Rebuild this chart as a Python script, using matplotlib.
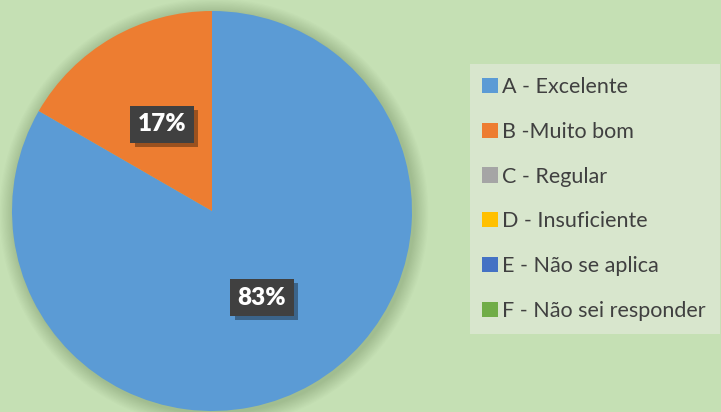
import matplotlib.pyplot as plt
from matplotlib.patches import Patch, Rectangle, Circle
from matplotlib import patheffects as pe

# data
categories = ['A - Excelente', 'B -Muito bom', 'C - Regular', 'D - Insuficiente',
              'E - Não se aplica', 'F - Não sei responder']
counts = [5, 1, 0, 0, 0, 0]
colors = ['#5b9bd5', '#ed7d31', '#a5a5a5', '#ffc000', '#4472c4', '#70ad47']

W, H = 721, 412
fig = plt.figure(figsize=(W / 100, H / 100), dpi=100)
fig.patch.set_facecolor('#c5e0b4')
plt.rcParams['font.family'] = ['Lato', 'DejaVu Sans']

# pie axes: centre (212, 211) px, radius 200 px
ax = fig.add_axes([12 / W, 1 / H, 400 / W, 400 / H])


def pct(p):
    return f'{p:.0f}%' if p > 0 else ''


wedges, texts, autotexts = ax.pie(counts, colors=colors, startangle=90, counterclock=False,
                                  autopct=pct, pctdistance=0.5, radius=1,
                                  wedgeprops=dict(linewidth=0))
ax.set_xlim(-1, 1)
ax.set_ylim(-1, 1)
ax.set_aspect('equal')
ax.axis('off')

# soft shadow around the pie
for i in range(12):
    ax.add_patch(Circle((0.01, -0.01), 1 + 0.006 * (12 - i), color='#4a6a3a',
                        alpha=0.025, lw=0, clip_on=False, zorder=0))

for w in wedges:
    w.set_clip_on(False)
    w.set_zorder(1)

for t in autotexts:
    t.set_color('white')
    t.set_fontsize(17.5)
    t.set_fontweight('heavy')
    t.set_zorder(3)
    t.set_bbox(dict(boxstyle='square,pad=0.3', facecolor='#404040', edgecolor='none'))
    t.get_bbox_patch().set_path_effects([
        pe.SimplePatchShadow(offset=(3, -3), shadow_rgbFace='black', alpha=0.35),
        pe.Normal()])

# legend background
fig.add_artist(Rectangle((470 / W, 1 - 334 / H), 250 / W, 270 / H,
                         transform=fig.transFigure, facecolor='#d8e6cd',
                         edgecolor='none', zorder=0))

handles = [Patch(facecolor=c, edgecolor='none') for c in colors]
leg = fig.legend(handles, categories, loc='upper left',
                 bbox_to_anchor=(482 / W, 1 - 77 / H), frameon=False,
                 fontsize=15.5, handlelength=0.72, handleheight=0.72,
                 handletextpad=0.22, labelspacing=1.15, borderpad=0,
                 borderaxespad=0)
for t in leg.get_texts():
    t.set_color('#404040')

fig.savefig('out.png', dpi=100, facecolor=fig.get_facecolor())
